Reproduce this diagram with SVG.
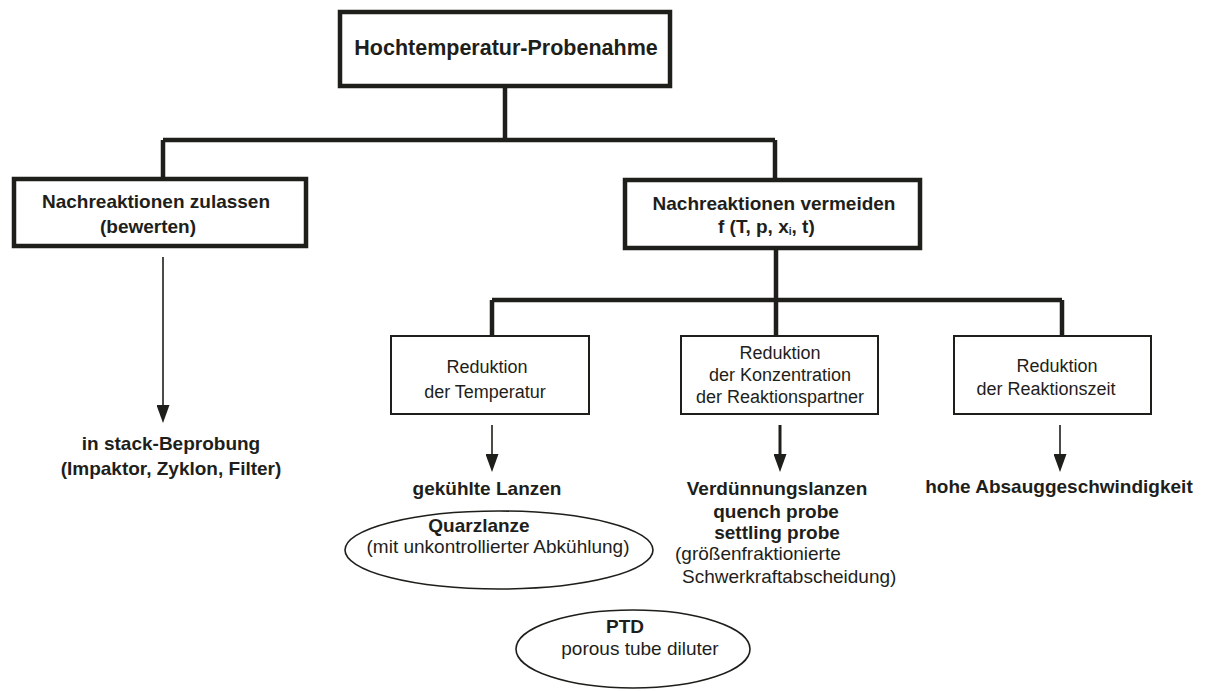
<svg xmlns="http://www.w3.org/2000/svg" width="1208" height="691" viewBox="0 0 1208 691">
<style>
text{font-family:"Liberation Sans",Arial,sans-serif;fill:#1e1e1a;text-anchor:middle}
.b{font-weight:bold;font-size:19px}
.r{font-size:19px}
.rs{font-size:18px}
.big{fill:#fff;stroke:#1e1e1a;stroke-width:4.5}
.sm{fill:#fff;stroke:#1e1e1a;stroke-width:2}
.ell{fill:#fff;stroke:#1e1e1a;stroke-width:1.6}
.thick{fill:none;stroke:#1e1e1a;stroke-width:4.5}
.arr{fill:none;stroke:#1e1e1a;stroke-width:1.6;marker-end:url(#ah)}
.arr3{fill:none;stroke:#1e1e1a;stroke-width:3;marker-end:url(#ah)}
</style>
<defs>
<marker id="ah" viewBox="0 0 18 13" refX="10" refY="6.5" markerWidth="18" markerHeight="13" markerUnits="userSpaceOnUse" orient="auto">
<path d="M0,0 L18,6.5 L0,13 Z" fill="#1e1e1a"/>
</marker>
</defs>
<rect width="1208" height="691" fill="#fff"/>
<g id="connectors">
<path class="thick" d="M505,86 V140 M163,140 H775 M163,140 V179 M775,140 V180"/>
<path class="thick" d="M776,248 V300 M492,300 H1062 M492,300 V335 M776,300 V335 M1062,300 V335"/>
<path class="arr" d="M163,257 V415"/>
<path class="arr" d="M492,425 V464"/>
<path class="arr3" d="M780,425 V464"/>
<path class="arr" d="M1060,425 V464"/>
</g>
<g id="n-top">
<rect class="big" x="340" y="12" width="330" height="74"/>
<text class="b" x="506" y="55" style="font-size:21.5px">Hochtemperatur-Probenahme</text>
</g>
<g id="n-zulassen">
<rect class="big" x="14" y="179" width="292" height="67"/>
<text class="b" x="156" y="208">Nachreaktionen zulassen</text>
<text class="b" x="148" y="233">(bewerten)</text>
</g>
<g id="n-vermeiden">
<rect class="big" x="625" y="180" width="295" height="68"/>
<text class="b" x="774" y="210">Nachreaktionen vermeiden</text>
<text class="b" x="718" y="233" style="text-anchor:start">f (T, p, x<tspan font-size="10" dy="2">i</tspan><tspan dy="-2">, t)</tspan></text>
</g>
<g id="n-temp">
<rect class="sm" x="391" y="336" width="198" height="78"/>
<text class="rs" x="487" y="373">Reduktion</text>
<text class="rs" x="485" y="398">der Temperatur</text>
</g>
<g id="n-konz">
<rect class="sm" x="681" y="336" width="197" height="78"/>
<text class="rs" x="780" y="359">Reduktion</text>
<text class="rs" x="780" y="381">der Konzentration</text>
<text class="rs" x="780" y="403">der Reaktionspartner</text>
</g>
<g id="n-zeit">
<rect class="sm" x="954" y="336" width="197" height="78"/>
<text class="rs" x="1057" y="372">Reduktion</text>
<text class="rs" x="1046" y="395">der Reaktionszeit</text>
</g>
<g id="n-stack">
<text class="b" x="171" y="450">in stack-Beprobung</text>
<text class="b" x="171" y="475">(Impaktor, Zyklon, Filter)</text>
</g>
<g id="n-lanzen">
<text class="b" x="487" y="495">gekühlte Lanzen</text>
</g>
<g id="n-quarz">
<ellipse class="ell" cx="499" cy="550" rx="154" ry="39"/>
<text class="b" x="479" y="532">Quarzlanze</text>
<text class="r" x="498" y="553">(mit unkontrollierter Abkühlung)</text>
</g>
<g id="n-verd">
<text class="b" x="777" y="495">Verdünnungslanzen</text>
<text class="b" x="776" y="518">quench probe</text>
<text class="b" x="777" y="539">settling probe</text>
<text class="r" x="675" y="560" style="text-anchor:start">(größenfraktionierte</text>
<text class="r" x="682" y="583" style="text-anchor:start">Schwerkraftabscheidung)</text>
</g>
<g id="n-absaug">
<text class="b" x="1059" y="493">hohe Absauggeschwindigkeit</text>
</g>
<g id="n-ptd">
<ellipse class="ell" cx="633" cy="649" rx="117" ry="39"/>
<text class="b" x="625" y="633">PTD</text>
<text class="r" x="640" y="655">porous tube diluter</text>
</g>
</svg>
